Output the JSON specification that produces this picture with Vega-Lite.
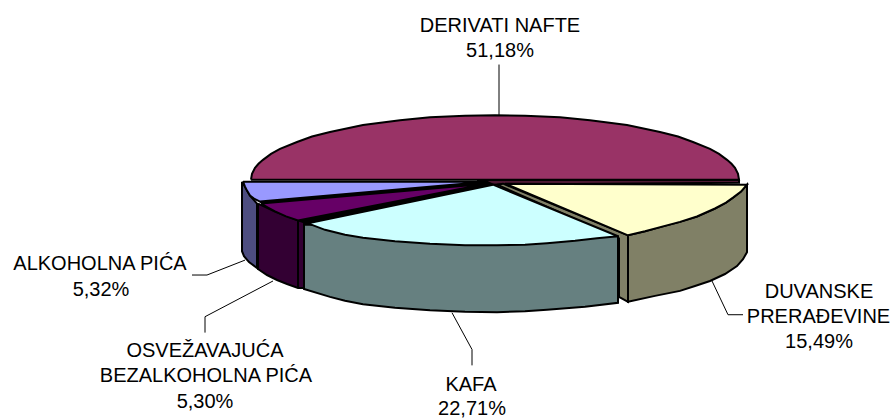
{
"$schema":"https://vega.github.io/schema/vega-lite/v6.json",
"width":894,"height":419,"padding":0,"autosize":{"type":"fit","contains":"padding"},
"background":"white","view":{"stroke":null},
"datasets":{
"faces":[
{"part":"Derivati side","o":1,"x":478,"y":181},{"part":"Derivati side","o":2,"x":739,"y":181},{"part":"Derivati side","o":3,"x":739,"y":184},{"part":"Derivati side","o":4,"x":478,"y":186},{"part":"Derivati side","o":5,"x":478,"y":181},
{"part":"Derivati top","o":1,"x":251,"y":181},{"part":"Derivati top","o":2,"x":252,"y":175},{"part":"Derivati top","o":3,"x":255,"y":169},{"part":"Derivati top","o":4,"x":258.5,"y":165},{"part":"Derivati top","o":5,"x":263,"y":161},{"part":"Derivati top","o":6,"x":271,"y":155},{"part":"Derivati top","o":7,"x":280,"y":150},{"part":"Derivati top","o":8,"x":297,"y":143},{"part":"Derivati top","o":9,"x":312,"y":137.5},{"part":"Derivati top","o":10,"x":330,"y":133},{"part":"Derivati top","o":11,"x":363,"y":126},{"part":"Derivati top","o":12,"x":400,"y":121},{"part":"Derivati top","o":13,"x":430,"y":118},{"part":"Derivati top","o":14,"x":465,"y":116.5},{"part":"Derivati top","o":15,"x":495,"y":116},{"part":"Derivati top","o":16,"x":525,"y":116.5},{"part":"Derivati top","o":17,"x":560,"y":118},{"part":"Derivati top","o":18,"x":590,"y":121},{"part":"Derivati top","o":19,"x":627,"y":126},{"part":"Derivati top","o":20,"x":660,"y":133},{"part":"Derivati top","o":21,"x":678,"y":137.5},{"part":"Derivati top","o":22,"x":693,"y":143},{"part":"Derivati top","o":23,"x":710,"y":150},{"part":"Derivati top","o":24,"x":719,"y":155},{"part":"Derivati top","o":25,"x":727,"y":161},{"part":"Derivati top","o":26,"x":731.5,"y":165},{"part":"Derivati top","o":27,"x":735,"y":169},{"part":"Derivati top","o":28,"x":738,"y":175},{"part":"Derivati top","o":29,"x":739,"y":181},{"part":"Derivati top","o":30,"x":495,"y":181},{"part":"Derivati top","o":31,"x":251,"y":181},
{"part":"Duvanske wall","o":1,"x":497,"y":186},{"part":"Duvanske wall","o":2,"x":503,"y":185},{"part":"Duvanske wall","o":3,"x":628,"y":237},{"part":"Duvanske wall","o":4,"x":628,"y":304},{"part":"Duvanske wall","o":5,"x":619,"y":299},{"part":"Duvanske wall","o":6,"x":619,"y":240},{"part":"Duvanske wall","o":7,"x":497,"y":186},
{"part":"Duvanske side","o":1,"x":628,"y":237},{"part":"Duvanske side","o":2,"x":645,"y":233},{"part":"Duvanske side","o":3,"x":663,"y":228},{"part":"Duvanske side","o":4,"x":680,"y":223.5},{"part":"Duvanske side","o":5,"x":697,"y":218},{"part":"Duvanske side","o":6,"x":715,"y":210},{"part":"Duvanske side","o":7,"x":726,"y":204},{"part":"Duvanske side","o":8,"x":733,"y":199},{"part":"Duvanske side","o":9,"x":741,"y":193},{"part":"Duvanske side","o":10,"x":747,"y":186},{"part":"Duvanske side","o":11,"x":747,"y":254},{"part":"Duvanske side","o":12,"x":743,"y":261},{"part":"Duvanske side","o":13,"x":737,"y":268},{"part":"Duvanske side","o":14,"x":725,"y":276},{"part":"Duvanske side","o":15,"x":710,"y":283},{"part":"Duvanske side","o":16,"x":695,"y":288},{"part":"Duvanske side","o":17,"x":680,"y":293},{"part":"Duvanske side","o":18,"x":655,"y":298},{"part":"Duvanske side","o":19,"x":628,"y":304},{"part":"Duvanske side","o":20,"x":628,"y":237},
{"part":"Duvanske top","o":1,"x":505,"y":185},{"part":"Duvanske top","o":2,"x":747,"y":186},{"part":"Duvanske top","o":3,"x":741,"y":193},{"part":"Duvanske top","o":4,"x":733,"y":199},{"part":"Duvanske top","o":5,"x":726,"y":204},{"part":"Duvanske top","o":6,"x":715,"y":210},{"part":"Duvanske top","o":7,"x":697,"y":218},{"part":"Duvanske top","o":8,"x":680,"y":223.5},{"part":"Duvanske top","o":9,"x":663,"y":228},{"part":"Duvanske top","o":10,"x":645,"y":233},{"part":"Duvanske top","o":11,"x":628,"y":237},{"part":"Duvanske top","o":12,"x":505,"y":185},
{"part":"Alkoholna side","o":1,"x":242,"y":183},{"part":"Alkoholna side","o":2,"x":242,"y":253},{"part":"Alkoholna side","o":3,"x":244,"y":258},{"part":"Alkoholna side","o":4,"x":249,"y":264},{"part":"Alkoholna side","o":5,"x":257,"y":270},{"part":"Alkoholna side","o":6,"x":257,"y":205},{"part":"Alkoholna side","o":7,"x":250,"y":197},{"part":"Alkoholna side","o":8,"x":245,"y":188},{"part":"Alkoholna side","o":9,"x":242,"y":183},
{"part":"Gap","o":1,"x":260,"y":203},{"part":"Gap","o":2,"x":487,"y":183},{"part":"Gap","o":3,"x":493,"y":186},{"part":"Gap","o":4,"x":308,"y":226},{"part":"Gap","o":5,"x":298,"y":222},{"part":"Gap","o":6,"x":260,"y":203},
{"part":"Alkoholna top","o":1,"x":243,"y":183},{"part":"Alkoholna top","o":2,"x":487,"y":183},{"part":"Alkoholna top","o":3,"x":260,"y":203},{"part":"Alkoholna top","o":4,"x":254,"y":200},{"part":"Alkoholna top","o":5,"x":250,"y":197},{"part":"Alkoholna top","o":6,"x":247,"y":192},{"part":"Alkoholna top","o":7,"x":245,"y":188},{"part":"Alkoholna top","o":8,"x":243,"y":183},
{"part":"Osvezavajuca side","o":1,"x":258,"y":205},{"part":"Osvezavajuca side","o":2,"x":258,"y":271},{"part":"Osvezavajuca side","o":3,"x":267,"y":277},{"part":"Osvezavajuca side","o":4,"x":277,"y":282},{"part":"Osvezavajuca side","o":5,"x":287,"y":286},{"part":"Osvezavajuca side","o":6,"x":298,"y":290},{"part":"Osvezavajuca side","o":7,"x":304,"y":290},{"part":"Osvezavajuca side","o":8,"x":304,"y":224},{"part":"Osvezavajuca side","o":9,"x":298,"y":222},{"part":"Osvezavajuca side","o":10,"x":275,"y":213},{"part":"Osvezavajuca side","o":11,"x":258,"y":205},
{"part":"Osvezavajuca edge","o":1,"x":298,"y":222},{"part":"Osvezavajuca edge","o":2,"x":298,"y":290},
{"part":"Osvezavajuca top","o":1,"x":261,"y":205},{"part":"Osvezavajuca top","o":2,"x":487,"y":185},{"part":"Osvezavajuca top","o":3,"x":298,"y":222},{"part":"Osvezavajuca top","o":4,"x":286,"y":218},{"part":"Osvezavajuca top","o":5,"x":275,"y":213},{"part":"Osvezavajuca top","o":6,"x":268,"y":209},{"part":"Osvezavajuca top","o":7,"x":261,"y":205},
{"part":"Kafa side","o":1,"x":304,"y":226},{"part":"Kafa side","o":2,"x":304,"y":291},{"part":"Kafa side","o":3,"x":330,"y":299},{"part":"Kafa side","o":4,"x":345,"y":303},{"part":"Kafa side","o":5,"x":363,"y":306.5},{"part":"Kafa side","o":6,"x":395,"y":310},{"part":"Kafa side","o":7,"x":430,"y":312.5},{"part":"Kafa side","o":8,"x":465,"y":314},{"part":"Kafa side","o":9,"x":497,"y":314.5},{"part":"Kafa side","o":10,"x":525,"y":313.5},{"part":"Kafa side","o":11,"x":547,"y":312},{"part":"Kafa side","o":12,"x":585,"y":309},{"part":"Kafa side","o":13,"x":618,"y":305},{"part":"Kafa side","o":14,"x":618,"y":238},{"part":"Kafa side","o":15,"x":304,"y":226},
{"part":"Kafa top","o":1,"x":308,"y":225},{"part":"Kafa top","o":2,"x":493,"y":186},{"part":"Kafa top","o":3,"x":618,"y":238},{"part":"Kafa top","o":4,"x":597,"y":240},{"part":"Kafa top","o":5,"x":575,"y":242.5},{"part":"Kafa top","o":6,"x":547,"y":245},{"part":"Kafa top","o":7,"x":525,"y":246.5},{"part":"Kafa top","o":8,"x":497,"y":247},{"part":"Kafa top","o":9,"x":465,"y":247},{"part":"Kafa top","o":10,"x":430,"y":245.5},{"part":"Kafa top","o":11,"x":395,"y":243},{"part":"Kafa top","o":12,"x":363,"y":239.5},{"part":"Kafa top","o":13,"x":345,"y":236.5},{"part":"Kafa top","o":14,"x":325,"y":231.5},{"part":"Kafa top","o":15,"x":308,"y":225}
],
"leaders":[
{"slice":"Derivati nafte","o":1,"x":499,"y":65},{"slice":"Derivati nafte","o":2,"x":499,"y":116},
{"slice":"Duvanske preradevine","o":1,"x":712,"y":283},{"slice":"Duvanske preradevine","o":2,"x":728,"y":317},{"slice":"Duvanske preradevine","o":3,"x":743,"y":317},
{"slice":"Kafa","o":1,"x":452,"y":315},{"slice":"Kafa","o":2,"x":472,"y":352},{"slice":"Kafa","o":3,"x":472,"y":368},
{"slice":"Osvezavajuca","o":1,"x":273,"y":283},{"slice":"Osvezavajuca","o":2,"x":205,"y":319},{"slice":"Osvezavajuca","o":3,"x":205,"y":335},
{"slice":"Alkoholna","o":1,"x":245,"y":262},{"slice":"Alkoholna","o":2,"x":207,"y":277},{"slice":"Alkoholna","o":3,"x":192,"y":277}
],
"labels":[
{"text":"DERIVATI NAFTE","x":500,"y":32},{"text":"51,18%","x":500,"y":57},
{"text":"DUVANSKE","x":819,"y":300},{"text":"PRERAĐEVINE","x":818.5,"y":325},{"text":"15,49%","x":819,"y":351},
{"text":"KAFA","x":471,"y":394},{"text":"22,71%","x":472,"y":418},
{"text":"OSVEŽAVAJUĆA","x":205,"y":360},{"text":"BEZALKOHOLNA PIĆA","x":206,"y":385},{"text":"5,30%","x":205,"y":411},
{"text":"ALKOHOLNA PIĆA","x":100,"y":272},{"text":"5,32%","x":101,"y":298}
]
},
"layer":[
{"data":{"name":"leaders"},
 "mark":{"type":"line","stroke":"#000000","strokeWidth":1},
 "encoding":{"x":{"field":"x","type":"quantitative","scale":{"domain":[0,894]},"axis":null},"y":{"field":"y","type":"quantitative","scale":{"domain":[419,0]},"axis":null},"detail":{"field":"slice"},"order":{"field":"o"}}},
{"data":{"name":"faces"},
 "mark":{"type":"line","stroke":"#000000","strokeWidth":2,"strokeJoin":"miter"},
 "encoding":{"x":{"field":"x","type":"quantitative","scale":{"domain":[0,894]},"axis":null},"y":{"field":"y","type":"quantitative","scale":{"domain":[419,0]},"axis":null},"detail":{"field":"part"},"order":{"field":"o"},
 "fill":{"field":"part","type":"nominal","legend":null,"sort":null,"scale":{"domain":["Derivati side","Derivati top","Duvanske wall","Duvanske side","Duvanske top","Alkoholna side","Gap","Alkoholna top","Osvezavajuca side","Osvezavajuca edge","Osvezavajuca top","Kafa side","Kafa top"],"range":["#4d1933","#993366","#808066","#808066","#ffffcc","#4d4d80","#000000","#9999ff","#330033","#330033","#660066","#668080","#ccffff"]}}}},
{"data":{"name":"labels"},
 "mark":{"type":"text","font":"Liberation Sans","fontSize":20,"align":"center","baseline":"alphabetic","color":"#000000"},
 "encoding":{"x":{"field":"x","type":"quantitative","scale":{"domain":[0,894]},"axis":null},"y":{"field":"y","type":"quantitative","scale":{"domain":[419,0]},"axis":null},"text":{"field":"text"}}}
]
}
